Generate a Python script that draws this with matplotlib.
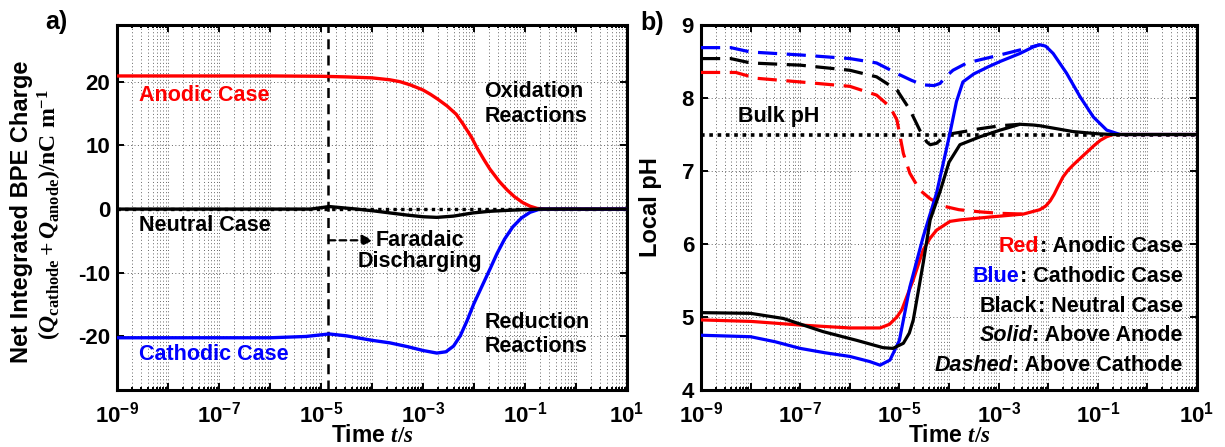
import numpy as np
import matplotlib
matplotlib.use('Agg')
import matplotlib.pyplot as plt
from matplotlib.ticker import LogLocator, FuncFormatter, NullFormatter, MultipleLocator

plt.rcParams['font.family'] = 'Liberation Sans'
plt.rcParams['font.weight'] = 'bold'
plt.rcParams['axes.labelweight'] = 'bold'
plt.rcParams['axes.unicode_minus'] = False
plt.rcParams['mathtext.fontset'] = 'custom'
plt.rcParams['mathtext.rm'] = 'Liberation Serif:bold'
plt.rcParams['mathtext.it'] = 'Liberation Serif:italic:bold'
plt.rcParams['mathtext.bf'] = 'Liberation Sans:bold'
plt.rcParams['mathtext.sf'] = 'Liberation Sans:bold'

# ------------------------------------------------------------------
# panel a) net integrated BPE charge
# times are given as log10(t/s)
# ------------------------------------------------------------------
anodic_lt = [-9, -6, -5, -4.5, -4, -3.65, -3.45, -3.25, -3.0, -2.85, -2.7, -2.53, -2.35, -2.21,
             -2.05, -1.94, -1.8, -1.69, -1.5, -1.35, -1.2, -1.04, -0.9, -0.76, -0.6, 1]
anodic_q = [20.9, 20.9, 20.85, 20.75, 20.6, 20.3, 20.0, 19.5, 18.7, 18.0, 17.2, 16.2, 14.9, 13.3,
            11.3, 9.6, 7.7, 6.3, 4.3, 3.0, 1.9, 1.0, 0.45, 0.1, 0, 0]

cathodic_lt = [-9, -6, -5.3, -4.84, -4.5, -4.0, -3.65, -3.3, -3.0, -2.73, -2.55, -2.4,
               -2.27, -2.14, -2.0, -1.82, -1.68, -1.55, -1.4, -1.24, -1.07, -0.9, -0.71, -0.5, 1]
cathodic_q = [-20.2, -20.2, -20.0, -19.6, -19.9, -20.6, -21.0, -21.6, -22.2, -22.6, -22.4, -21.5,
              -19.9, -17.6, -14.8, -11.7, -9.3, -7.0, -4.7, -2.8, -1.4, -0.5, 0, 0, 0]

neutral_lt = [-9, -5.2, -4.84, -4.5, -4.3, -4.0, -3.65, -3.3, -3.0, -2.73, -2.4, -2.02,
              -1.7, -1.35, -1.0, -0.7, 1]
neutral_q = [0, 0, 0.4, 0.15, 0, -0.25, -0.6, -0.95, -1.2, -1.3, -1.1, -0.6,
             -0.35, -0.2, -0.08, 0, 0]

t_faradaic = 1.4e-5

# ------------------------------------------------------------------
# panel b) local pH
# ------------------------------------------------------------------
bulk_ph = 7.5

red_solid_lt = [-9, -8, -7, -6, -5.39, -5.2, -5.05, -4.95, -4.85, -4.72, -4.52, -4.38, -4.25,
                -3.98, -3.78, -3.17, -2.5, -2.17, -2.05, -1.96, -1.88, -1.80, -1.70, -1.6,
                -1.5, -1.36, -1.2, -1.09, -0.95, -0.82, -0.69, 1]
red_solid_ph = [4.96, 4.94, 4.89, 4.85, 4.85, 4.90, 5.00, 5.10, 5.28, 5.51, 5.92, 6.08, 6.19,
                6.31, 6.33, 6.37, 6.41, 6.47, 6.52, 6.59, 6.68, 6.79, 6.92, 7.01,
                7.08, 7.17, 7.27, 7.34, 7.42, 7.47, 7.5, 7.5]
red_dash_lt = [-9, -8.3, -7.88, -7, -6, -5.46, -5.19, -5.05, -4.92, -4.79, -4.59, -4.38,
               -4.12, -3.8, -3.37, -2.97, -2.5]
red_dash_ph = [8.35, 8.35, 8.27, 8.22, 8.16, 8.04, 7.88, 7.70, 7.24, 6.97, 6.74, 6.62,
               6.52, 6.47, 6.44, 6.42, 6.41]

blue_solid_lt = [-9, -8, -7.5, -7, -6.5, -6, -5.6, -5.39, -5.19, -5.0, -4.79, -4.52, -4.25,
                 -3.98, -3.85, -3.72, -3.5, -3.2, -2.97, -2.57, -2.3, -2.17, -2.05, -1.90,
                 -1.63, -1.36, -1.09, -0.82, -0.55, 1]
blue_solid_ph = [4.75, 4.73, 4.66, 4.57, 4.51, 4.46, 4.39, 4.34, 4.41, 4.68, 5.41, 6.10, 6.70,
                 7.52, 7.95, 8.22, 8.33, 8.43, 8.50, 8.61, 8.70, 8.73, 8.71, 8.61,
                 8.34, 8.02, 7.74, 7.56, 7.5, 7.5]
blue_dash_lt = [-9, -8.4, -8.0, -7, -6, -5.46, -5.0, -4.75, -4.52, -4.3, -4.18, -4.05,
                -3.92, -3.64, -2.97, -2.5, -2.17]
blue_dash_ph = [8.69, 8.69, 8.63, 8.59, 8.54, 8.48, 8.32, 8.24, 8.18, 8.17, 8.20, 8.30,
                8.38, 8.48, 8.59, 8.67, 8.73]

black_solid_lt = [-9, -8, -7.34, -6.54, -5.86, -5.33, -5.13, -4.92, -4.80, -4.72, -4.62, -4.52,
                  -4.38, -4.18, -4.0, -3.78, -3.37, -2.97, -2.57, -2.3, -2.17, -1.5, -1.0, -0.7, 1]
black_solid_ph = [5.06, 5.05, 4.98, 4.80, 4.68, 4.58, 4.57, 4.64, 4.78, 4.96, 5.35, 5.74,
                  6.33, 6.72, 7.12, 7.36, 7.47, 7.56, 7.64, 7.63, 7.62, 7.54, 7.51, 7.5, 7.5]
black_dash_lt = [-9, -8.4, -8.0, -7, -6, -5.46, -5.05, -4.79, -4.59, -4.45, -4.38, -4.25,
                 -4.05, -3.78, -3.37, -2.97, -2.57]
black_dash_ph = [8.54, 8.54, 8.48, 8.45, 8.38, 8.29, 8.11, 7.84, 7.56, 7.40, 7.36, 7.38,
                 7.50, 7.53, 7.58, 7.62, 7.64]

legend_rows = [('Red', 'red', 'normal', ': Anodic Case'),
               ('Blue', 'blue', 'normal', ': Cathodic Case'),
               ('Black', 'black', 'normal', ': Neutral Case'),
               ('Solid', 'black', 'italic', ': Above Anode'),
               ('Dashed', 'black', 'italic', ': Above Cathode')]
legend_y = [5.97, 5.56, 5.15, 4.75, 4.34]


def t(lt):
    return 10.0 ** np.asarray(lt)


def log_label(v, pos):
    e = int(round(np.log10(v)))
    if e % 2 == 0:
        return ''
    return r'$\mathsf{10^{%d}}$' % e


def style_axes(ax):
    ax.set_xscale('log')
    ax.set_xlim(1e-9, 1e1)
    ax.xaxis.set_major_locator(LogLocator(base=10, numticks=30))
    ax.xaxis.set_minor_locator(LogLocator(base=10, subs=np.arange(2, 10), numticks=30))
    ax.xaxis.set_major_formatter(FuncFormatter(log_label))
    ax.xaxis.set_minor_formatter(NullFormatter())
    ax.tick_params(which='both', direction='in', top=True, right=True, width=1.4)
    ax.tick_params(which='major', length=5, labelsize=16)
    ax.tick_params(which='minor', length=2.5)
    ax.tick_params(axis='x', pad=8)
    ax.tick_params(axis='y', pad=5)
    ax.grid(True, which='major', ls=(0, (1, 2.5)), color='0.4', lw=0.7)
    ax.grid(True, which='minor', axis='x', ls=(0, (1, 2.5)), color='0.4', lw=0.7)
    for sp in ax.spines.values():
        sp.set_linewidth(2.2)
    ax.set_axisbelow(True)
    ax.set_xlabel(r'Time $t/s$', fontsize=16.5)
    ax.xaxis.set_label_coords(0.5, -0.093)


fig = plt.figure(figsize=(12.25, 4.47), dpi=100)
ax1 = fig.add_axes([117 / 1225, 57 / 447, 510 / 1225, 365 / 447])
ax2 = fig.add_axes([701 / 1225, 57 / 447, 496 / 1225, 365 / 447])

# ---------------------------- panel a ----------------------------
style_axes(ax1)
ax1.set_ylim(-28.4, 28.9)
ax1.yaxis.set_major_locator(MultipleLocator(10))

ax1.axhline(0, color='k', lw=2.4, ls=(0, (1, 1.3)), zorder=2)
ax1.axvline(t_faradaic, color='k', lw=1.8, ls=(0, (4, 2.5)), zorder=2)
ax1.plot(t(anodic_lt), anodic_q, color='red', lw=2.4, zorder=3)
ax1.plot(t(cathodic_lt), cathodic_q, color='blue', lw=2.4, zorder=3)
ax1.plot(t(neutral_lt), neutral_q, color='black', lw=2.4, zorder=3)

fs = 15.5
ax1.text(10 ** -8.57, 17.8, 'Anodic Case', color='red', fontsize=fs, va='center')
ax1.text(10 ** -8.57, -2.5, 'Neutral Case', color='black', fontsize=fs, va='center')
ax1.text(10 ** -8.57, -22.8, 'Cathodic Case', color='blue', fontsize=fs, va='center')
ax1.text(10 ** -1.8, 16.5, 'Oxidation\nReactions', fontsize=fs, va='center', ha='left',
         linespacing=1.2)
ax1.text(10 ** -1.8, -19.7, 'Reduction\nReactions', fontsize=fs, va='center', ha='left',
         linespacing=1.2)
ax1.text(10 ** -3.06, -6.55, 'Faradaic\nDischarging', fontsize=fs, va='center', ha='center',
         linespacing=1.0)
ax1.annotate('', xy=(1.05e-4, -4.9), xytext=(t_faradaic, -4.9),
             arrowprops=dict(arrowstyle='-|>', lw=1.6, ls=(0, (3, 2)), color='k',
                             mutation_scale=16, shrinkA=0, shrinkB=0))

fig.text(22 / 1225, 1 - 212 / 447, 'Net Integrated BPE Charge', rotation=90,
         fontsize=17, ha='center', va='center')
fig.text(50 / 1225, 1 - 215 / 447,
         r'$(Q_{\mathrm{cathode}}+Q_{\mathrm{anode}})\mathrm{/nC\ m^{-1}}$',
         rotation=90, fontsize=17, ha='center', va='center')
fig.text(56 / 1225, 1 - 22 / 447, 'a)', fontsize=18, ha='center', va='center')

# ---------------------------- panel b ----------------------------
style_axes(ax2)
ax2.set_ylim(4, 9)
ax2.yaxis.set_major_locator(MultipleLocator(1))

ax2.axhline(bulk_ph, color='k', lw=2.6, ls=(0, (1, 1.3)), zorder=2)
dash = (0, (6, 3))
ax2.plot(t(red_dash_lt), red_dash_ph, color='red', lw=2.3, ls=dash, zorder=3)
ax2.plot(t(blue_dash_lt), blue_dash_ph, color='blue', lw=2.3, ls=dash, zorder=3)
ax2.plot(t(black_dash_lt), black_dash_ph, color='black', lw=2.3, ls=dash, zorder=3)
ax2.plot(t(red_solid_lt), red_solid_ph, color='red', lw=2.3, zorder=3)
ax2.plot(t(blue_solid_lt), blue_solid_ph, color='blue', lw=2.3, zorder=3)
ax2.plot(t(black_solid_lt), black_solid_ph, color='black', lw=2.3, zorder=3)

ax2.text(10 ** -8.25, 7.74, 'Bulk pH', fontsize=fs, va='center')

for (key, col, sty, rest), yv in zip(legend_rows, legend_y):
    t1 = ax2.text(10 ** 0.71, yv, rest, fontsize=fs, ha='right', va='center', zorder=5)
    ax2.annotate(key, xy=(0, 0.5), xycoords=t1, ha='right', va='center', color=col,
                 style=sty, fontsize=fs, zorder=5)

ax2.set_ylabel('Local pH', fontsize=17)
ax2.yaxis.set_label_coords(-0.078, 0.5)
fig.text(652 / 1225, 1 - 23 / 447, 'b)', fontsize=18, ha='center', va='center')

fig.savefig('out.png', dpi=100)
